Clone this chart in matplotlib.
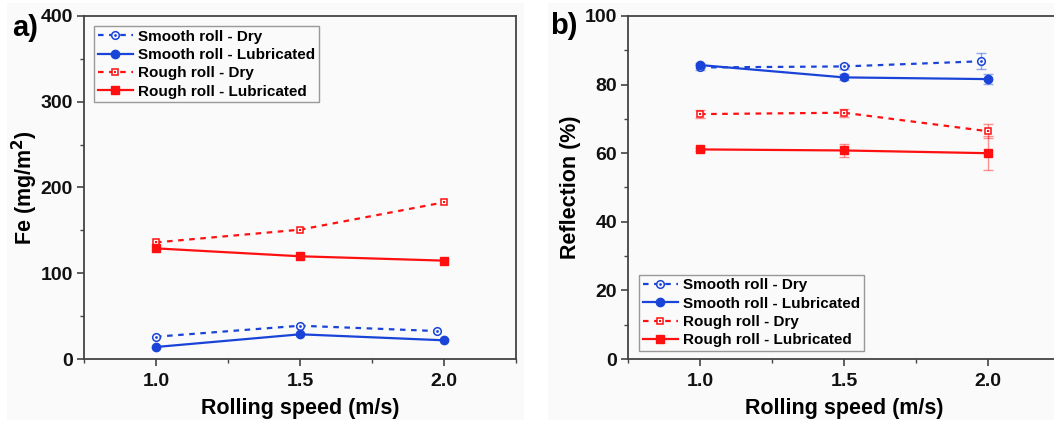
import matplotlib
matplotlib.use("Agg")
import matplotlib.pyplot as plt
from matplotlib.ticker import MultipleLocator, FixedLocator
from matplotlib.legend_handler import HandlerTuple
from matplotlib.patches import Rectangle

plt.rcParams['font.family'] = ['Liberation Sans', 'DejaVu Sans']
plt.rcParams['font.weight'] = 'bold'

# ---------------- data ----------------
speed = [1.0, 1.5, 2.0]
speed_smooth_dry = [1.0, 1.5, 1.975]
series_labels = ["Smooth roll - Dry", "Smooth roll - Lubricated",
                 "Rough roll - Dry", "Rough roll - Lubricated"]

# panel a) Fe (mg/m^2)
fe_smooth_dry = [26, 38.8, 32.6]
fe_smooth_lub = [14, 28.8, 21.8]
fe_rough_dry = [136, 150.8, 182.7]
fe_rough_lub = [129, 119.8, 114.7]

# panel b) Reflection (%)
ref_smooth_dry = [85.0, 85.3, 86.8]
ref_smooth_dry_err = [0.6, 0.7, 2.3]
ref_smooth_lub = [85.7, 82.1, 81.6]
ref_smooth_lub_err = [0.5, 0.9, 1.5]
ref_rough_dry = [71.4, 71.8, 66.4]
ref_rough_dry_err = [1.2, 1.2, 2.0]
ref_rough_lub = [61.1, 60.8, 60.0]
ref_rough_lub_err = [0.5, 2.0, 5.0]

BLUE = '#1a44d8'
RED = '#ff1010'
BG = '#fafafa'
SPINE = '#444444'

W, H = 1054, 423
fig = plt.figure(figsize=(W / 100, H / 100), dpi=100)
fig.patch.set_facecolor('white')
# light panel backgrounds
fig.patches.append(Rectangle((7 / W, 3 / H), (524 - 7) / W, (420 - 3) / H,
                             transform=fig.transFigure, facecolor=BG, edgecolor='none', zorder=-10))
fig.patches.append(Rectangle((548 / W, 3 / H), (W - 548) / W, (420 - 3) / H,
                             transform=fig.transFigure, facecolor=BG, edgecolor='none', zorder=-10))

axw = 432 / W
axh = (359 - 16) / H
ax_a = fig.add_axes([84 / W, 1 - 359 / H, axw, axh])
ax_b = fig.add_axes([628 / W, 1 - 359 / H, axw, axh])


def draw_series(ax, x, y, err, color, dashed, marker):
    ls = (0, (2.5, 2.5)) if dashed else '-'
    if err is not None:
        ax.errorbar(x, y, yerr=err, fmt='none', ecolor=color, alpha=0.45,
                    elinewidth=1.0, capsize=3.5, capthick=1.0, zorder=2)
    if dashed:
        line, = ax.plot(x, y, linestyle=ls, color=color, lw=1.6, marker=marker,
                        markersize=5.5 if marker == 'o' else 5, markerfacecolor=BG,
                        markeredgecolor=color, markeredgewidth=1.1, zorder=3)
        dot, = ax.plot(x, y, linestyle='none', marker='s' if marker == 's' else 'o',
                       markersize=2.0, color=color, markeredgewidth=0, zorder=4)
        return (line, dot)
    line, = ax.plot(x, y, linestyle=ls, color=color, lw=1.6, marker=marker,
                    markersize=6 if marker == 'o' else 5.2, markerfacecolor=color,
                    markeredgecolor=color, zorder=3)
    return line


def style_axes(ax, ymax, ymajor, yminor):
    ax.set_facecolor(BG)
    ax.set_xlim(0.75, 2.25)
    ax.set_ylim(0, ymax)
    ax.xaxis.set_major_locator(FixedLocator(speed))
    ax.xaxis.set_minor_locator(MultipleLocator(0.25))
    ax.yaxis.set_major_locator(MultipleLocator(ymajor))
    ax.yaxis.set_minor_locator(MultipleLocator(yminor))
    ax.set_xticklabels([f"{v:.1f}" for v in speed])
    for s in ax.spines.values():
        s.set_color(SPINE)
        s.set_linewidth(1.3)
    ax.tick_params(axis='both', which='major', direction='out', length=5, width=1.2,
                   color=SPINE, labelsize=14, labelcolor='#111111')
    ax.tick_params(axis='both', which='minor', direction='out', length=3, width=1.0,
                   color=SPINE)
    ax.tick_params(axis='x', which='major', pad=5)
    ax.tick_params(axis='y', which='major', pad=3)
    for lab in ax.get_xticklabels() + ax.get_yticklabels():
        lab.set_fontweight('bold')
    ax.set_xlabel("Rolling speed (m/s)", fontsize=15.5, fontweight='bold', labelpad=6)


# ---- panel a ----
h1 = draw_series(ax_a, speed_smooth_dry, fe_smooth_dry, None, BLUE, True, 'o')
h2 = draw_series(ax_a, speed, fe_smooth_lub, None, BLUE, False, 'o')
h3 = draw_series(ax_a, speed, fe_rough_dry, None, RED, True, 's')
h4 = draw_series(ax_a, speed, fe_rough_lub, None, RED, False, 's')
style_axes(ax_a, 400, 100, 50)
ax_a.set_ylabel("Fe (mg/m$^\\mathbf{2}$)", fontsize=15.5, fontweight='bold')
ax_a.yaxis.set_label_coords(-0.102, 0.5)

leg_kw = dict(frameon=True, fancybox=False, edgecolor='#999999',
              facecolor=BG, framealpha=1, handlelength=2.3, handletextpad=0.35,
              labelspacing=0.28, borderpad=0.25, borderaxespad=0, numpoints=1,
              handler_map={tuple: HandlerTuple(ndivide=1, pad=0)},
              prop={'weight': 'bold', 'size': 11})
lg = ax_a.legend([h1, h2, h3, h4], series_labels, loc='upper left',
                 bbox_to_anchor=(10 / 432, 1 - 10 / 343), **leg_kw)
lg.get_frame().set_linewidth(1.0)

# ---- panel b ----
g1 = draw_series(ax_b, speed_smooth_dry, ref_smooth_dry, ref_smooth_dry_err, BLUE, True, 'o')
g2 = draw_series(ax_b, speed, ref_smooth_lub, ref_smooth_lub_err, BLUE, False, 'o')
g3 = draw_series(ax_b, speed, ref_rough_dry, ref_rough_dry_err, RED, True, 's')
g4 = draw_series(ax_b, speed, ref_rough_lub, ref_rough_lub_err, RED, False, 's')
style_axes(ax_b, 100, 20, 10)
ax_b.set_ylabel("Reflection (%)", fontsize=15.5, fontweight='bold')
ax_b.yaxis.set_label_coords(-0.109, 0.5)
lg2 = ax_b.legend([g1, g2, g3, g4], series_labels, loc='lower left',
                  bbox_to_anchor=(11 / 432, 8 / 343), **leg_kw)
lg2.get_frame().set_linewidth(1.0)

fig.text(12 / W, 1 - 28 / H, "a)", fontsize=21, fontweight='bold', va='center', ha='left')
fig.text(550 / W, 1 - 26 / H, "b)", fontsize=21, fontweight='bold', va='center', ha='left')

fig.savefig("out.png", dpi=100, facecolor=fig.get_facecolor())
